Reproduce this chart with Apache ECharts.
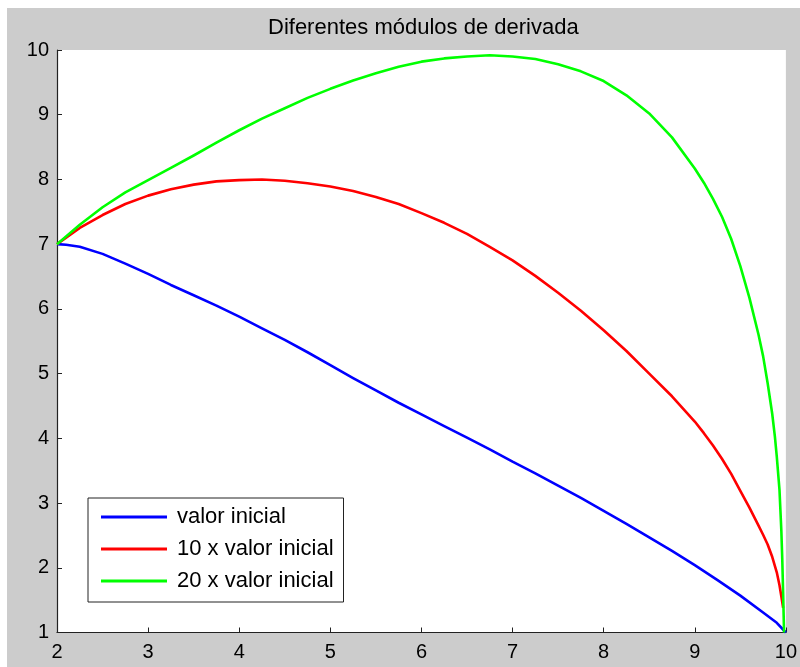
<!DOCTYPE html>
<html>
<head>
<meta charset="utf-8">
<script src="https://cdn.jsdelivr.net/npm/echarts@6/dist/echarts.min.js"></script>
<style>
  html, body { margin: 0; padding: 0; background: #ffffff; }
  #frame { position: absolute; left: 7px; top: 8px; width: 793px; height: 659px; background: #cccccc; }
  #chart { position: absolute; left: 0; top: 0; width: 800px; height: 667px; }
</style>
</head>
<body>
<div id="frame"></div>
<div id="chart"></div>
<script>
const titleText = 'Diferentes módulos de derivada';
const seriesNames = ['valor inicial', '10 x valor inicial', '20 x valor inicial'];

const blueX = [2, 2.1, 2.25, 2.5, 2.75, 3, 3.25, 3.5, 3.75, 4, 4.25, 4.5, 4.75, 5, 5.25, 5.5, 5.75, 6, 6.25, 6.5, 6.75, 7, 7.25, 7.5, 7.75, 8, 8.25, 8.5, 8.75, 9, 9.25, 9.5, 9.75, 9.9, 10];
const blueY = [7.00, 6.99, 6.96, 6.85, 6.70, 6.54, 6.37, 6.21, 6.05, 5.88, 5.70, 5.52, 5.33, 5.13, 4.93, 4.74, 4.55, 4.37, 4.19, 4.01, 3.83, 3.64, 3.46, 3.27, 3.08, 2.88, 2.68, 2.47, 2.26, 2.04, 1.81, 1.57, 1.31, 1.15, 1.00];

const redX = [2, 2.25, 2.5, 2.75, 3, 3.25, 3.5, 3.75, 4, 4.25, 4.5, 4.75, 5, 5.25, 5.5, 5.75, 6, 6.25, 6.5, 6.75, 7, 7.25, 7.5, 7.75, 8, 8.25, 8.5, 8.75, 9, 9.1, 9.2, 9.3, 9.4, 9.5, 9.6, 9.7, 9.75, 9.8, 9.85, 9.9, 9.93, 9.95, 9.97];
const redY = [7.00, 7.25, 7.45, 7.62, 7.75, 7.85, 7.92, 7.97, 7.99, 8.00, 7.98, 7.94, 7.89, 7.82, 7.73, 7.62, 7.48, 7.33, 7.16, 6.96, 6.75, 6.51, 6.25, 5.97, 5.67, 5.35, 5.00, 4.65, 4.26, 4.08, 3.89, 3.68, 3.45, 3.19, 2.93, 2.65, 2.51, 2.36, 2.17, 1.93, 1.73, 1.56, 1.38];

const greenX = [2, 2.25, 2.5, 2.75, 3, 3.25, 3.5, 3.75, 4, 4.25, 4.5, 4.75, 5, 5.25, 5.5, 5.75, 6, 6.25, 6.5, 6.75, 7, 7.25, 7.5, 7.75, 8, 8.25, 8.5, 8.75, 9, 9.1, 9.2, 9.3, 9.4, 9.5, 9.6, 9.7, 9.75, 9.8, 9.85, 9.88, 9.9, 9.93, 9.95, 9.96, 9.97, 9.98];
const greenY = [7.00, 7.30, 7.57, 7.80, 7.99, 8.18, 8.37, 8.57, 8.76, 8.94, 9.10, 9.26, 9.40, 9.53, 9.64, 9.74, 9.82, 9.87, 9.90, 9.92, 9.90, 9.86, 9.78, 9.67, 9.52, 9.30, 9.02, 8.65, 8.17, 7.95, 7.70, 7.42, 7.08, 6.66, 6.17, 5.60, 5.27, 4.85, 4.38, 4.02, 3.72, 3.20, 2.58, 2.15, 1.60, 1.00];

const xTicks = [2, 3, 4, 5, 6, 7, 8, 9, 10];
const yTicks = [1, 2, 3, 4, 5, 6, 7, 8, 9, 10];

function pairs(xs, ys) { return xs.map((x, i) => [x, ys[i]]); }

const FONT = '"Liberation Sans", Arial, sans-serif';
const chart = echarts.init(document.getElementById('chart'), null, { renderer: 'canvas' });

function lineSeries(name, xs, ys, color) {
  return {
    name: name, type: 'line', data: pairs(xs, ys),
    showSymbol: false, smooth: false,
    lineStyle: { color: color, width: 2.6, join: 'round' }, itemStyle: { color: color },
    clip: true, z: 3
  };
}

chart.setOption({
  backgroundColor: 'transparent',
  animation: false,
  title: {
    text: titleText, left: 268, top: 17, padding: 0,
    textStyle: { fontFamily: FONT, fontSize: 22, fontWeight: 'normal', color: '#000' }
  },
  grid: {
    left: 57, right: 5, top: 50, bottom: 34.5,
    show: true, backgroundColor: '#ffffff', borderWidth: 0
  },
  legend: {
    orient: 'vertical', left: 88, top: 498,
    padding: [8, 10, 10, 13],
    backgroundColor: '#ffffff', borderColor: '#222', borderWidth: 1,
    itemWidth: 66, itemHeight: 3, itemGap: 10, icon: 'rect',
    textStyle: { fontFamily: FONT, fontSize: 22, color: '#000', lineHeight: 22, padding: [0, 0, 0, 5] },
    data: seriesNames
  },
  xAxis: {
    type: 'value', min: xTicks[0], max: xTicks[xTicks.length - 1], interval: 1,
    axisLine: { show: true, onZero: false, lineStyle: { color: '#222', width: 1.2 } },
    axisTick: { show: true, inside: true, length: 5, lineStyle: { color: '#222' } },
    axisLabel: { fontFamily: FONT, fontSize: 20, color: '#000', margin: 10 },
    splitLine: { show: false }
  },
  yAxis: {
    type: 'value', min: yTicks[0], max: yTicks[yTicks.length - 1], interval: 1,
    axisLine: { show: true, onZero: false, lineStyle: { color: '#222', width: 1.2 } },
    axisTick: { show: true, inside: true, length: 5, lineStyle: { color: '#222' } },
    axisLabel: { fontFamily: FONT, fontSize: 20, color: '#000', margin: 8 },
    splitLine: { show: false }
  },
  series: [
    lineSeries(seriesNames[0], blueX, blueY, '#0000ff'),
    lineSeries(seriesNames[1], redX, redY, '#ff0000'),
    lineSeries(seriesNames[2], greenX, greenY, '#00ff00')
  ]
});
</script>
</body>
</html>
